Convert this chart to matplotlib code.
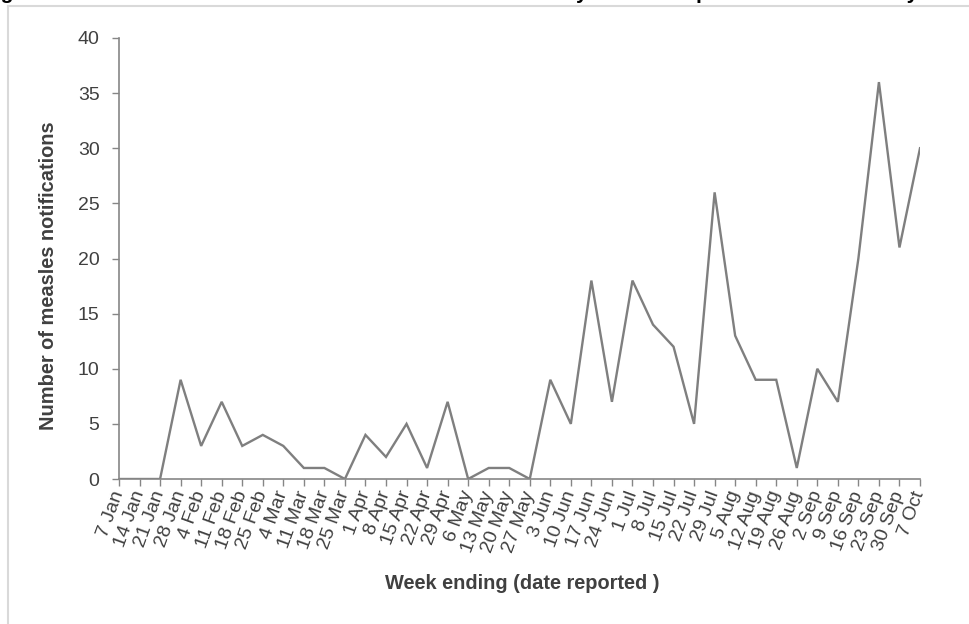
import numpy as np
import matplotlib
matplotlib.use("Agg")
import matplotlib.pyplot as plt
from matplotlib.lines import Line2D

plt.rcParams['font.family'] = ['Liberation Sans', 'DejaVu Sans']

### weeks and counts
weeks = ["7 Jan", "14 Jan", "21 Jan", "28 Jan", "4 Feb", "11 Feb", "18 Feb", "25 Feb",
         "4 Mar", "11 Mar", "18 Mar", "25 Mar", "1 Apr", "8 Apr", "15 Apr", "22 Apr",
         "29 Apr", "6 May", "13 May", "20 May", "27 May", "3 Jun", "10 Jun", "17 Jun",
         "24 Jun", "1 Jul", "8 Jul", "15 Jul", "22 Jul", "29 Jul", "5 Aug", "12 Aug",
         "19 Aug", "26 Aug", "2 Sep", "9 Sep", "16 Sep", "23 Sep", "30 Sep", "7 Oct"]
cases = [0, 0, 0, 9, 3, 7, 3, 4,
         3, 1, 1, 0, 4, 2, 5, 1,
         7, 0, 1, 1, 0, 9, 5, 18,
         7, 18, 14, 12, 5, 26, 13, 9,
         9, 1, 10, 7, 20, 36, 21, 30]
yticks = [0, 5, 10, 15, 20, 25, 30, 35, 40]

title = "Figure 1: Number of measles notifications in New Zealand by week of report to date in 2019 by"

fig = plt.figure(figsize=(9.69, 6.24), dpi=100)
ax = fig.add_axes([119/969, 1-479/624, 801/969, 441/624])

x = np.arange(len(weeks))
ax.plot(x, cases, color="#7f7f7f", lw=1.7, solid_joinstyle="miter")

ax.set_xlim(0, len(weeks)-1)
ax.set_ylim(0, 40)
ax.set_yticks(yticks)
ax.set_xticks(x)
ax.set_xticklabels(weeks, rotation=70, ha="right", va="center", rotation_mode="anchor")

for s in ["top", "right"]:
    ax.spines[s].set_visible(False)
for s in ["left", "bottom"]:
    ax.spines[s].set_color("#868686")
    ax.spines[s].set_linewidth(1.2)
ax.tick_params(axis="both", color="#868686", width=1, length=5, labelcolor="#404040",
               labelsize=14)
ax.tick_params(axis="x", pad=4)
ax.tick_params(axis="y", pad=9)

ax.set_ylabel("Number of measles notifications", fontsize=14.4, fontweight="bold",
              color="#404040")
ax.yaxis.set_label_coords((58-119)/801, 0.46)
ax.set_xlabel("Week ending (date reported )", fontsize=14.4, fontweight="bold",
              color="#404040")
ax.xaxis.set_label_coords(0.504, -(574-479)/441)

### chart frame and the clipped title above it
fig.add_artist(Line2D([8/969, 8/969], [0, 1-6/624], color="#d9d9d9", lw=1.5))
fig.add_artist(Line2D([8/969, 1], [1-6/624, 1-6/624], color="#d9d9d9", lw=1.5))
fig.text(-18/969, 1+0.5/624, title, fontsize=15, fontweight="bold", va="baseline", ha="left")

fig.savefig("out.png", dpi=100)
